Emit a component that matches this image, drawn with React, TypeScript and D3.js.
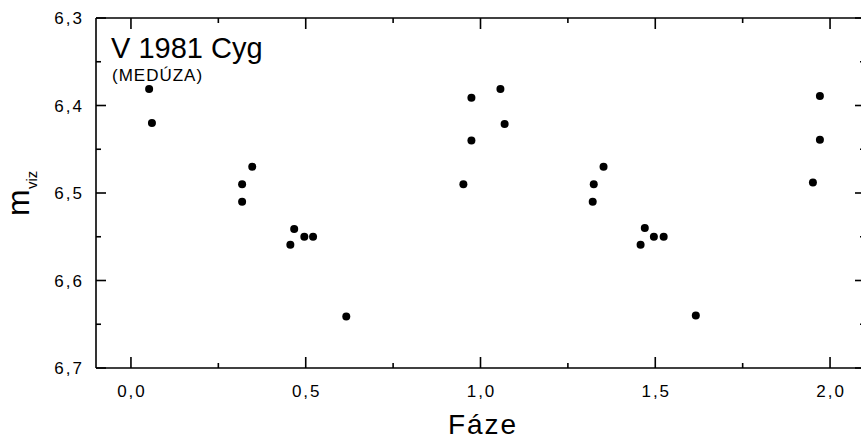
import React from "react";
import * as d3 from "d3";

const phase = [0.052, 0.06, 0.347, 0.318, 0.318, 0.467, 0.496, 0.521, 0.456, 0.616,
  0.974, 1.057, 1.069, 0.974, 0.951,
  1.352, 1.324, 1.321, 1.47, 1.496, 1.524, 1.458, 1.616,
  1.971, 1.971, 1.951];
const mag = [6.381, 6.42, 6.47, 6.49, 6.51, 6.541, 6.55, 6.55, 6.559, 6.641,
  6.391, 6.381, 6.421, 6.44, 6.49,
  6.47, 6.49, 6.51, 6.54, 6.55, 6.55, 6.559, 6.64,
  6.389, 6.439, 6.488];

const xMajor = [0, 0.5, 1.0, 1.5, 2.0];
const xMinor = [0.25, 0.75, 1.25, 1.75];
const yMajor = [6.3, 6.4, 6.5, 6.6, 6.7];
const yMinor = [6.35, 6.45, 6.55, 6.65];
const fmt = (v: number) => v.toFixed(1).replace(".", ",");

const title = "V 1981 Cyg";
const subtitle = "(MEDÚZA)";
const xLabel = "Fáze";

export default function App() {
  const W = 861, H = 441;
  const x = d3.scaleLinear().domain([-0.1, 2.1]).range([96, 865]);
  const y = d3.scaleLinear().domain([6.3, 6.7]).range([18, 368]);
  const [x0, x1] = x.range();
  const [y0, y1] = y.range();
  const font = "Liberation Sans, Arial, Helvetica, sans-serif";
  const sw = 1.6;
  return (
    <svg width={W} height={H} style={{ position: "absolute", left: 0, top: 0, background: "#fff" }}
      fontFamily={font}>
      {/* axes frame */}
      <line x1={x0} x2={x0} y1={y0} y2={y1} stroke="#000" strokeWidth={sw} />
      <line x1={x0} x2={x1} y1={y1} y2={y1} stroke="#000" strokeWidth={sw} />
      <line x1={x0} x2={x1} y1={y0} y2={y0} stroke="#000" strokeWidth={sw} />
      <line x1={x1} x2={x1} y1={y0} y2={y1} stroke="#000" strokeWidth={sw} />
      {/* x ticks */}
      {xMajor.map((v) => (
        <g key={"xM" + v}>
          <line x1={x(v)} x2={x(v)} y1={y1} y2={y1 - 11} stroke="#000" strokeWidth={sw} />
          <line x1={x(v)} x2={x(v)} y1={y0} y2={y0 + 11} stroke="#000" strokeWidth={sw} />
          <text x={x(v) + 1} y={397} fontSize={17} textAnchor="middle" letterSpacing={2}>{fmt(v)}</text>
        </g>
      ))}
      {xMinor.map((v) => (
        <g key={"xm" + v}>
          <line x1={x(v)} x2={x(v)} y1={y1} y2={y1 - 5} stroke="#000" strokeWidth={sw} />
          <line x1={x(v)} x2={x(v)} y1={y0} y2={y0 + 5} stroke="#000" strokeWidth={sw} />
        </g>
      ))}
      {/* y ticks */}
      {yMajor.map((v) => (
        <g key={"yM" + v}>
          <line x1={x0} x2={x0 + 10} y1={y(v)} y2={y(v)} stroke="#000" strokeWidth={sw} />
          <line x1={x1} x2={x1 - 10} y1={y(v)} y2={y(v)} stroke="#000" strokeWidth={sw} />
          <text x={84} y={y(v) + 6} fontSize={17} textAnchor="end" letterSpacing={2}>{fmt(v)}</text>
        </g>
      ))}
      {yMinor.map((v) => (
        <g key={"ym" + v}>
          <line x1={x0} x2={x0 + 5} y1={y(v)} y2={y(v)} stroke="#000" strokeWidth={sw} />
          <line x1={x1} x2={x1 - 5} y1={y(v)} y2={y(v)} stroke="#000" strokeWidth={sw} />
        </g>
      ))}
      {/* points */}
      {phase.map((p, i) => (
        <circle key={i} cx={x(p)} cy={y(mag[i])} r={4} fill="#000" />
      ))}
      {/* titles */}
      <text x={111} y={58} fontSize={29}>{title}</text>
      <text x={112} y={81} fontSize={17} letterSpacing={1}>{subtitle}</text>
      <text x={483} y={434} fontSize={28} textAnchor="middle" letterSpacing={2}>{xLabel}</text>
      <g transform="translate(29,216) rotate(-90)">
        <text x={0} y={0} fontSize={32}>m</text>
        <text x={27} y={8} fontSize={15}>viz</text>
      </g>
    </svg>
  );
}
